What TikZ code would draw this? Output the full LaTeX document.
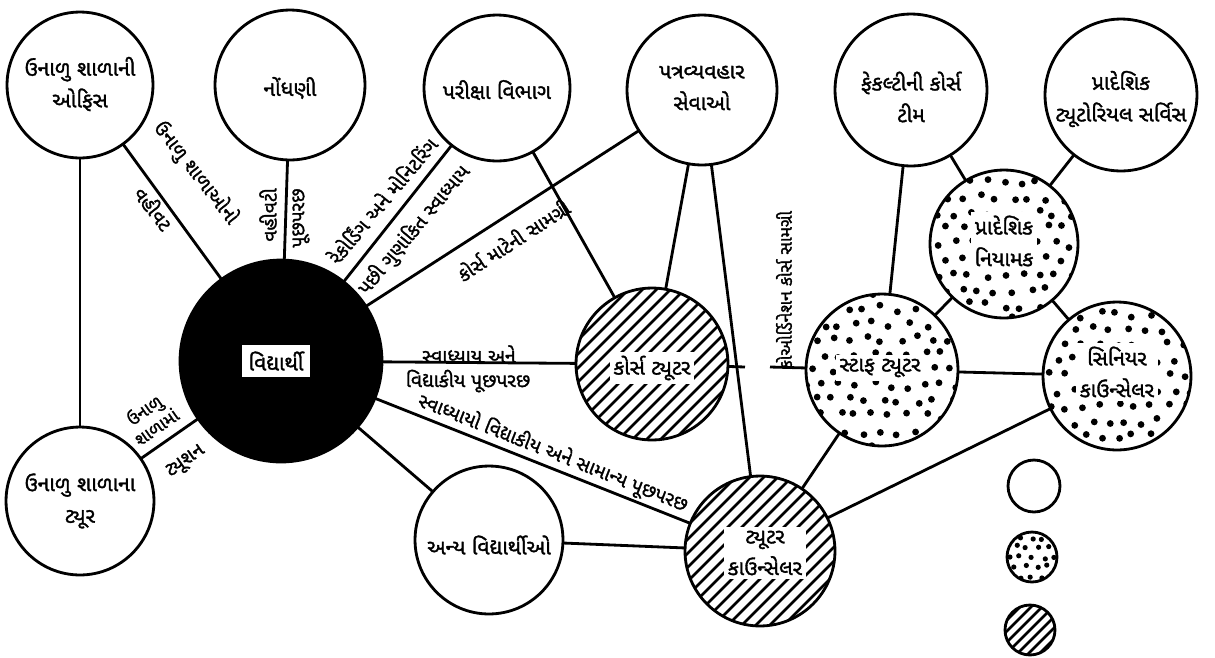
\documentclass[tikz,border=0pt]{standalone}
\usepackage{fontspec}
\newfontfamily\guj[Script=Gujarati,FakeBold=1.5]{Noto Sans Gujarati UI}
\newcommand\mydots[5]{% cx, cy, r, spacing, dot radius
  \begin{scope}
    \clip (#1,#2) circle (#3);
    \foreach \i in {-6,...,6} {
      \foreach \j in {-6,...,6} {
        \pgfmathsetmacro\dx{rand*0.22*#4}
        \pgfmathsetmacro\dy{rand*0.22*#4}
        \pgfmathsetmacro\off{mod(\j+20,2)*0.5*#4}
        \fill (#1+\i*#4+\off+\dx, #2+\j*#4*0.9+\dy) circle (#5);
      }
    }
  \end{scope}}
\newcommand\myhatch[4]{% cx, cy, r, step
  \begin{scope}
    \clip (#1,#2) circle (#3);
    \foreach \k in {-14,...,14} {
      \draw[line width=1.5pt] (#1+\k*#4-#3-10, #2+#3+10) -- (#1+\k*#4+#3+10, #2-#3-10);
    }
  \end{scope}}
\begin{document}
\begin{tikzpicture}[x=0.02cm,y=-0.02cm,
  circ/.style={circle,draw,line width=1.6pt,minimum size=#1*0.04cm,inner sep=0pt,outer sep=0pt},
  conn/.style={line width=1.6pt},
  txt/.style={font=\guj\fontsize{12}{18}\selectfont,align=center,inner sep=1pt},
  halo/.style={txt,fill=white,inner sep=2pt},
  elab/.style={font=\guj\fontsize{11}{13}\selectfont,align=center,inner sep=0pt}]
\useasboundingbox (0,0) rectangle (1215,657);
\pgfmathsetseed{11}
% patterns
\mydots{1004}{244}{74}{17}{3.4}
\mydots{882}{370}{76}{17}{3.4}
\mydots{1117}{376}{74}{17}{3.4}
\mydots{1032}{557}{25}{11}{2.6}
\myhatch{652}{364}{76}{14}
\myhatch{760}{551}{75}{14}
\myhatch{1030}{630}{25}{11}
% circles
\node[circ=73] (off) at (80,85) {};
\node[circ=75] (reg) at (290,85) {};
\node[circ=73] (exam) at (497,88) {};
\node[circ=75] (corr) at (702,90) {};
\node[circ=76] (fac) at (911,90) {};
\node[circ=76] (rts) at (1121,95) {};
\node[circ=74] (rd) at (1004,244) {};
\node[circ=101,fill=black] (stu) at (281,361) {};
\node[circ=76] (ct) at (652,364) {};
\node[circ=76] (st) at (882,370) {};
\node[circ=74] (sc) at (1117,376) {};
\node[circ=75] (tc) at (760,551) {};
\node[circ=74] (oth) at (489,540) {};
\node[circ=74] (sst) at (80,501) {};
\node[circ=26] (lg1) at (1034,486) {};
\node[circ=25] (lg2) at (1032,557) {};
\node[circ=25] (lg3) at (1030,630) {};
% circle texts
\node[txt] (offt) at (80,84) {ઉનાળુ શાળાની\\ઓફિસ};
\node[txt] (regt) at (290,88) {નોંધણી};
\node[txt] (examt) at (497,90) {પરીક્ષા વિભાગ};
\node[txt] (corrt) at (702,88) {પત્રવ્યવહાર\\સેવાઓ};
\node[txt] (fact) at (911,97) {ફેકલ્ટીની કોર્સ\\ટીમ};
\node[txt] (rtst) at (1121,99) {પ્રાદેશિક\\ટ્યૂટોરિયલ સર્વિસ};
\node[halo] (rdt) at (1004,241) {પ્રાદેશિક\\નિયામક};
\node[txt,fill=white,inner sep=4pt] (stut) at (276,361) {વિદ્યાર્થી};
\node[halo] (ctt) at (652,368) {કોર્સ ટ્યૂટર};
\node[halo] (stt) at (880,368) {સ્ટાફ ટ્યૂટર};
\node[halo] (sct) at (1117,372) {સિનિયર\\કાઉન્સેલર};
\node[halo] (tct) at (765,553) {ટ્યૂટર\\કાઉન્સેલર};
\node[txt] (otht) at (489,545) {અન્ય વિદ્યાર્થીઓ};
\node[txt] (sstt) at (80,501) {ઉનાળુ શાળાના\\ટ્યૂર};
% connectors
\draw[conn] (off) -- (sst);
\draw[conn] (off) -- (stu);
\draw[conn] (reg) -- (stu);
\draw[conn] (exam) -- (stu);
\draw[conn] (exam) -- (ct);
\draw[conn] (corr) -- (stu);
\draw[conn] (corr) -- (ct);
\draw[conn] (corr) -- (tc);
\draw[conn] (stu) -- (ct);
\draw[conn] (stu) -- (tc);
\draw[conn] (stu) -- (oth);
\draw[conn] (stu) -- (sst);
\draw[conn] (oth) -- (tc);
\coordinate (gl) at (745,367);
\coordinate (gr) at (770,367);
\draw[conn] (ct) -- (gl);
\draw[conn] (gr) -- (st);
\draw[conn] (fac) -- (st);
\draw[conn] (fac) -- (rd);
\draw[conn] (rts) -- (rd);
\draw[conn] (rd) -- (st);
\draw[conn] (rd) -- (sc);
\draw[conn] (st) -- (sc);
\draw[conn] (st) -- (tc);
\draw[conn] (sc) -- (tc);
% connector labels
\node[elab,rotate=-52] (l1) at (196,173) {ઉનાળુ શાળાઓનો};
\node[elab,rotate=-52] (l2) at (154,208) {વહીવટ};
\node[elab,rotate=90] (l3) at (268,215) {વહીવટી};
\node[elab,rotate=90] (l4) at (301,218) {પૂછપરછ};
\node[elab,rotate=50] (l5) at (382,200) {રેકોર્ડિંગ અને મોનિટરિંગ};
\node[elab,rotate=50] (l6) at (414,230) {પછી ગુણાંકિત સ્વાધ્યાય};
\node[elab,rotate=33] (l7) at (513,240) {કોર્સ માટેની સામગ્રી};
\node[elab] (l8) at (469,354) {સ્વાધ્યાય અને};
\node[elab] (l9) at (468,381) {વિદ્યાકીય પૂછપરછ};
\node[elab,rotate=-21.6] (l10) at (553,453) {સ્વાધ્યાયો વિદ્યાકીય અને સામાન્ય પૂછપરછ};
\node[elab,rotate=35,font=\guj\fontsize{10}{12}\selectfont] (l11) at (150,418) {ઉનાળુ\\શાળામાં};
\node[elab,rotate=35] (l12) at (186,462) {ટ્યૂશન};
\node[elab,rotate=90,font=\guj\fontsize{10}{12}\selectfont] (l13) at (784,290) {કોઓર્ડિનેશન કોર્સ સામગ્રી};
\end{tikzpicture}
\end{document}
